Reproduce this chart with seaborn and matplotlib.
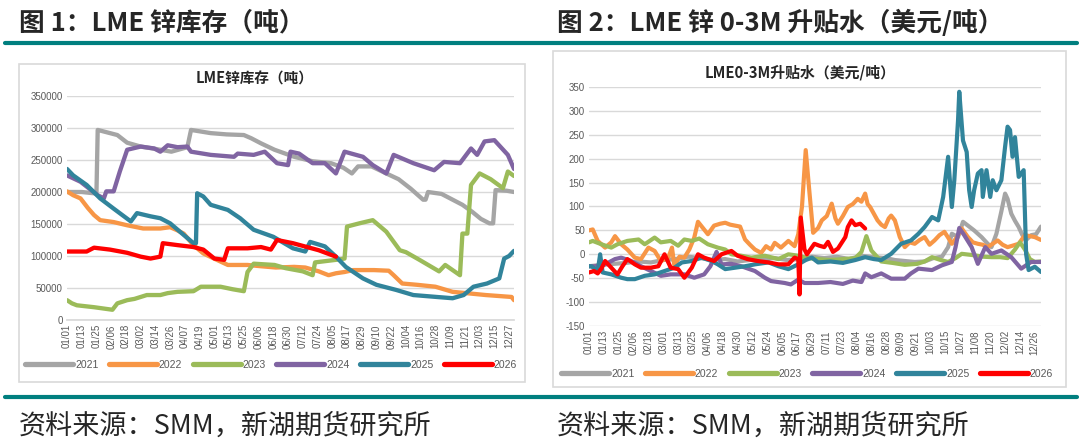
import matplotlib
matplotlib.use('Agg')
import numpy as np
import pandas as pd
import matplotlib.pyplot as plt
import seaborn as sns
from matplotlib.lines import Line2D
from matplotlib.patches import Rectangle

years = ['2021', '2022', '2023', '2024', '2025', '2026']
colors = ['#A5A5A5', '#F79646', '#9BBB59', '#8064A2', '#31849B', '#FF0000']

# 图1 LME锌库存（吨） -- x = 一年中的第几天
inv_day_2021 = [0, 12, 22, 24, 25, 33, 41, 49, 60, 70, 85, 98, 101, 117, 130, 144, 150, 158, 169, 185, 200, 215,
                225, 232, 237, 248, 260, 270, 280, 290, 292, 294, 305, 314, 322, 330, 337, 344, 347, 349, 358, 364]
inv_2021 = [200000, 200000, 198000, 200000, 297000, 293000, 289000, 277000, 271000, 268000, 263000, 270000,
            297000, 292000, 290000, 289000, 284000, 276000, 266000, 255000, 248000, 245000, 238000, 229000,
            240000, 240000, 229000, 220000, 205000, 188000, 188000, 200000, 197000, 188000, 180000, 169000,
            158000, 151000, 151000, 203000, 202000, 200000]
inv_day_2022 = [0, 5, 11, 17, 22, 27, 38, 49, 62, 76, 84, 90, 95, 103, 111, 122, 131, 147, 158, 170, 185, 194,
                205, 213, 219, 226, 233, 250, 262, 266, 273, 285, 300, 307, 314, 325, 341, 355, 362, 364]
inv_2022 = [201000, 195000, 190000, 175000, 164000, 156000, 153000, 148000, 143000, 143000, 145000, 140000,
            135000, 117000, 104000, 94000, 86000, 86000, 84000, 82000, 83000, 82000, 76000, 70000, 73000,
            75000, 78000, 78000, 77000, 70000, 57000, 55000, 52000, 48000, 44000, 42000, 39000, 37000,
            36000, 31000]
inv_day_2023 = [0, 4, 8, 22, 37, 41, 49, 55, 65, 76, 82, 90, 103, 109, 125, 135, 144, 147, 152, 169, 178, 192,
                200, 202, 219, 226, 228, 238, 249, 260, 271, 276, 287, 303, 308, 320, 322, 326, 329, 336, 345,
                355, 359, 364]
inv_2023 = [31000, 26000, 23000, 20000, 16000, 26000, 31000, 33000, 39000, 39000, 42000, 44000, 45000, 52000,
            52000, 48000, 45000, 75000, 88000, 86000, 81000, 76000, 70000, 90000, 94000, 96000, 146000,
            151000, 156000, 138000, 109000, 106000, 94000, 76000, 86000, 70000, 135000, 135000, 211000,
            229000, 220000, 206000, 232000, 225000]
inv_day_2024 = [0, 11, 25, 30, 32, 38, 43, 49, 60, 71, 76, 82, 90, 98, 101, 117, 136, 139, 152, 161, 171, 180,
                182, 189, 200, 210, 219, 226, 241, 249, 260, 266, 282, 299, 307, 320, 329, 334, 340, 348, 359, 364]
inv_2024 = [226000, 216000, 195000, 190000, 201000, 201000, 232000, 266000, 271000, 268000, 263000, 273000,
            270000, 271000, 263000, 258000, 255000, 260000, 258000, 263000, 245000, 242000, 263000, 260000,
            245000, 245000, 229000, 263000, 255000, 242000, 229000, 258000, 245000, 234000, 247000, 245000,
            268000, 258000, 279000, 281000, 258000, 236000]
inv_day_2025 = [0, 5, 16, 27, 38, 52, 57, 68, 76, 84, 95, 103, 105, 106, 111, 117, 131, 141, 152, 168, 184, 194,
                198, 210, 219, 227, 241, 252, 268, 282, 301, 314, 323, 331, 342, 352, 356, 360, 364]
inv_2025 = [236000, 226000, 211000, 190000, 174000, 154000, 167000, 162000, 159000, 151000, 133000, 120000,
            120000, 198000, 193000, 180000, 172000, 159000, 141000, 130000, 112000, 107000, 122000, 115000,
            99000, 83000, 65000, 55000, 47000, 39000, 36000, 34000, 39000, 52000, 57000, 65000, 96000,
            100000, 108000]
inv_day_2026 = [0, 16, 22, 35, 49, 60, 68, 76, 78, 90, 103, 111, 120, 128, 131, 147, 158, 166, 171, 184, 205, 219]
inv_2026 = [107000, 107000, 113000, 110000, 105000, 99000, 96000, 99000, 120000, 117000, 114000, 110000,
            96000, 94000, 112000, 112000, 114000, 110000, 125000, 120000, 109000, 99000]

# 图2 LME 0-3M 升贴水（美元/吨）
sp_day_2021 = [0, 10, 20, 30, 40, 50, 60, 70, 80, 90, 100, 110, 120, 130, 140, 150, 160, 170, 180, 190, 200, 210,
               220, 230, 240, 247, 255, 263, 271, 278, 285, 290, 293, 298, 302, 306, 311, 317, 322, 325, 329, 333,
               336, 338, 341, 344, 347, 350, 353, 357, 361, 365]
sp_2021 = [-25, -22, -20, -18, -15, -17, -12, -10, -5, -8, -12, -10, -15, -12, -10, -8, -12, -10, -5, -8, -5, -10,
           -3, -6, -8, -12, -14, -16, -15, -8, -5, 15, 43, 36, 68, 60, 50, 36, 22, 15, 43, 90, 127, 116, 85, 70, 57,
           40, 30, 40, 42, 58]
sp_day_2022 = [0, 3, 7, 13, 18, 21, 26, 31, 37, 42, 48, 53, 58, 64, 67, 69, 73, 77, 81, 85, 88, 92, 96, 101, 106,
               110, 114, 118, 122, 126, 130, 134, 139, 143, 147, 150, 155, 161, 166, 169, 172, 175, 178, 181, 185,
               188, 192, 196, 199, 201, 205, 209, 213, 217, 220, 223, 225, 227, 230, 233, 236, 239, 242, 244, 247,
               251, 255, 259, 263, 267, 271, 275, 279, 283, 287, 290, 293, 297, 301, 306, 310, 314, 318, 322, 326,
               330, 334, 338, 342, 347, 352, 356, 360, 365]
sp_2022 = [50, 52, 28, 14, 25, 38, 21, 10, -7, -10, 14, 7, -14, -7, 14, -25, -5, -7, 10, 35, 68, 55, 42, 60, 64,
           66, 62, 60, 58, 31, 20, 10, 3, 17, 10, 24, 14, 28, 17, 42, 100, 218, 130, 45, 55, 71, 80, 106, 75, 64,
           80, 99, 105, 116, 110, 127, 105, 99, 85, 71, 62, 57, 75, 81, 71, 36, 15, 25, 22, 30, 36, 20, 29, 40, 47,
           35, 22, 35, 54, 36, 25, 22, 20, 15, 22, 29, 20, 15, 18, 22, 40, 38, 36, 30]
sp_day_2023 = [0, 3, 10, 18, 23, 31, 40, 45, 53, 58, 66, 72, 77, 83, 89, 96, 104, 110, 115, 123, 131, 142, 153,
               161, 169, 177, 185, 195, 205, 215, 220, 224, 228, 236, 245, 255, 265, 271, 277, 284, 290, 296, 301,
               311, 318, 325, 332, 338, 344, 348, 352, 356, 360, 365]
sp_2023 = [25, 28, 21, 14, 21, 28, 31, 21, 35, 25, 28, 18, 31, 28, 33, 21, 14, 10, 0, -3, -7, -3, -10, 0, -3, -8,
           -10, -12, -10, -8, 5, 38, 8, -15, -18, -22, -20, -15, -6, -12, -16, -8, 1, -2, -5, -6, -6, -8, 10, 25,
           10, -10, -16, -15]
sp_day_2024 = [0, 5, 13, 21, 26, 34, 42, 50, 58, 66, 77, 85, 93, 98, 103, 107, 115, 123, 134, 142, 147, 158, 163,
               169, 174, 185, 195, 205, 213, 220, 223, 228, 236, 244, 255, 260, 266, 277, 285, 293, 296, 299, 303,
               309, 314, 320, 325, 333, 341, 349, 357, 365]
sp_2024 = [-25, -25, -21, -10, -7, -14, -25, -35, -45, -42, -42, -49, -42, -25, 5, -21, -20, -25, -35, -49, -56,
           -60, -63, -53, -60, -60, -58, -62, -55, -58, -40, -48, -40, -51, -51, -40, -30, -33, -23, -16, 15, 55,
           40, 15, -20, 15, 1, 8, -6, -30, -16, -16]
sp_day_2025 = [0, 2, 7, 9, 11, 18, 26, 31, 37, 45, 53, 61, 69, 75, 83, 91, 99, 104, 110, 118, 126, 134, 145, 153,
               161, 169, 175, 180, 185, 195, 205, 215, 223, 230, 236, 244, 252, 260, 266, 271, 277, 282, 286, 290,
               293, 295, 298, 299, 302, 305, 307, 309, 311, 314, 317, 318, 321, 324, 326, 329, 333, 336, 338, 340,
               342, 344, 347, 351, 353, 355, 360, 365]
sp_2025 = [-25, -25, -35, 0, -38, -42, -49, -52, -52, -45, -42, -35, -28, -17, -14, -7, -14, -21, -31, -28, -25,
           -21, -17, -25, -31, -21, -12, -7, -17, -15, -18, -12, -6, -10, -12, 1, 22, 29, 43, 57, 78, 71, 120, 204,
           99, 155, 280, 340, 238, 214, 134, 99, 134, 169, 176, 120, 176, 120, 155, 134, 155, 225, 267, 260, 204,
           245, 162, 176, 0, -33, -26, -37]
sp_day_2026 = [0, 4, 7, 10, 13, 18, 23, 27, 31, 37, 42, 50, 56, 61, 66, 72, 77, 83, 88, 93, 101, 107, 115, 120,
               128, 136, 145, 153, 161, 166, 169, 170, 171, 174, 176, 182, 186, 190, 193, 197, 201, 207, 209, 212,
               215, 219, 223]
sp_2026 = [-38, -35, -40, -30, -14, -28, -42, -25, -10, -21, -28, -28, -25, 0, -28, -31, -49, -28, 0, -7, -14, 0,
           7, -3, -10, -14, -17, -21, -21, -7, -10, -84, 77, 10, 0, 22, 18, 15, 26, 5, 12, 36, 57, 71, 61, 64, 54]

inv_ticks = ['01/01', '01/13', '01/25', '02/06', '02/18', '03/02', '03/14', '03/26', '04/07', '04/19', '05/01',
             '05/13', '05/25', '06/06', '06/18', '06/30', '07/12', '07/24', '08/05', '08/17', '08/29', '09/10',
             '09/22', '10/04', '10/16', '10/28', '11/09', '11/21', '12/03', '12/15', '12/27']
sp_ticks = ['01/01', '01/13', '01/25', '02/06', '02/18', '03/01', '03/13', '03/25', '04/06', '04/18', '04/30',
            '05/12', '05/24', '06/05', '06/17', '06/29', '07/11', '07/23', '08/04', '08/16', '08/28', '09/09',
            '09/21', '10/03', '10/15', '10/27', '11/08', '11/20', '12/02', '12/14', '12/26']

inv_days = [inv_day_2021, inv_day_2022, inv_day_2023, inv_day_2024, inv_day_2025, inv_day_2026]
inv_vals = [inv_2021, inv_2022, inv_2023, inv_2024, inv_2025, inv_2026]
sp_days = [sp_day_2021, sp_day_2022, sp_day_2023, sp_day_2024, sp_day_2025, sp_day_2026]
sp_vals = [sp_2021, sp_2022, sp_2023, sp_2024, sp_2025, sp_2026]

sns.set_theme(style='white')
plt.rcParams['font.family'] = ['Liberation Sans', 'Noto Sans CJK SC', 'DejaVu Sans']
CJK = ['Noto Sans CJK SC', 'DejaVu Sans']
W, H = 1080, 448


def box(x0, y0, x1, y1):
    # 像素框 -> figure 坐标
    return [x0 / W, 1 - y1 / H, (x1 - x0) / W, (y1 - y0) / H]


def draw(ax, days, vals, lw):
    df = pd.concat([pd.DataFrame({'day': d, 'value': v, 'year': y})
                    for y, d, v in zip(years, days, vals)], ignore_index=True)
    sns.lineplot(data=df, x='day', y='value', hue='year', palette=colors, estimator=None,
                 sort=False, lw=lw, legend=False, ax=ax,
                 solid_joinstyle='round', solid_capstyle='round')
    ax.set_xlabel('')
    ax.set_ylabel('')
    for s in ['top', 'left', 'right']:
        ax.spines[s].set_visible(False)
    ax.spines['bottom'].set_color('#D9D9D9')
    ax.yaxis.grid(True, color='#D9D9D9', lw=1)
    ax.set_axisbelow(True)
    ax.tick_params(axis='both', length=0, labelsize=7, colors='#595959', pad=3)


fig = plt.figure(figsize=(W / 100, H / 100), dpi=100)

# 外框
for x0, y0, x1, y1 in [(19, 64, 525, 382), (553, 51, 1066, 387)]:
    fig.add_artist(Rectangle((x0 / W, 1 - y1 / H), (x1 - x0) / W, (y1 - y0) / H,
                             transform=fig.transFigure, fill=False, ec='#D9D9D9', lw=1.2))

# 图1
ax1 = fig.add_axes(box(67, 96, 514, 320))
draw(ax1, inv_days, inv_vals, 3.1)
ax1.set_xlim(0, 364)
ax1.set_ylim(0, 350000)
ax1.set_yticks(range(0, 350001, 50000))
ax1.set_yticklabels([str(v) for v in range(0, 350001, 50000)])
ax1.set_xticks(range(0, 12 * len(inv_ticks), 12))
ax1.set_xticklabels(inv_ticks, rotation=90)

# 图2
ax2 = fig.add_axes(box(589, 87, 1041, 326))
draw(ax2, sp_days, sp_vals, 3.0)
ax2.set_xlim(0, 365)
ax2.set_ylim(-150, 350)
ax2.set_yticks(range(-150, 351, 50))
ax2.set_yticklabels([str(v) for v in range(-150, 351, 50)])
ax2.set_xticks(range(0, 12 * len(sp_ticks), 12))
ax2.set_xticklabels(sp_ticks, rotation=90)
ax2.spines['bottom'].set_visible(False)

# 图内标题
fig.text(255 / W, 1 - 79 / H, 'LME锌库存（吨）', ha='center', va='center', fontsize=10.5,
         fontweight='bold', family=CJK, color='#262626')
fig.text(800 / W, 1 - 72 / H, 'LME0-3M升贴水（美元/吨）', ha='center', va='center', fontsize=10.7,
         fontweight='bold', family=CJK, color='#262626')

# 图例
handles = [Line2D([], [], color=c, lw=3.8, solid_capstyle='round') for c in colors]
for cx, cy in [(271, 365), (807, 374)]:
    fig.legend(handles, years, loc='center', bbox_to_anchor=(cx / W, 1 - cy / H), ncol=6, frameon=False,
               fontsize=7.5, handlelength=4.6, handletextpad=0.2, columnspacing=1.0, labelcolor='#595959')

# 页眉、页脚
fig.text(19 / W, 1 - 23 / H, '图 1：LME 锌库存（吨）', ha='left', va='center', fontsize=18.5,
         fontweight='bold', family=CJK)
fig.text(557 / W, 1 - 23 / H, '图 2：LME 锌 0-3M 升贴水（美元/吨）', ha='left', va='center', fontsize=18.5,
         fontweight='bold', family=CJK)
for yy in [43.5, 396.5]:
    fig.add_artist(Line2D([5 / W, 1077 / W], [1 - yy / H] * 2, color='#007F7F', lw=3,
                          transform=fig.transFigure))
fig.text(19 / W, 1 - 426 / H, '资料来源：SMM，新湖期货研究所', ha='left', va='center', fontsize=19.5,
         family=CJK)
fig.text(557 / W, 1 - 426 / H, '资料来源：SMM，新湖期货研究所', ha='left', va='center', fontsize=19.5,
         family=CJK)

fig.savefig('out.png', dpi=100)
